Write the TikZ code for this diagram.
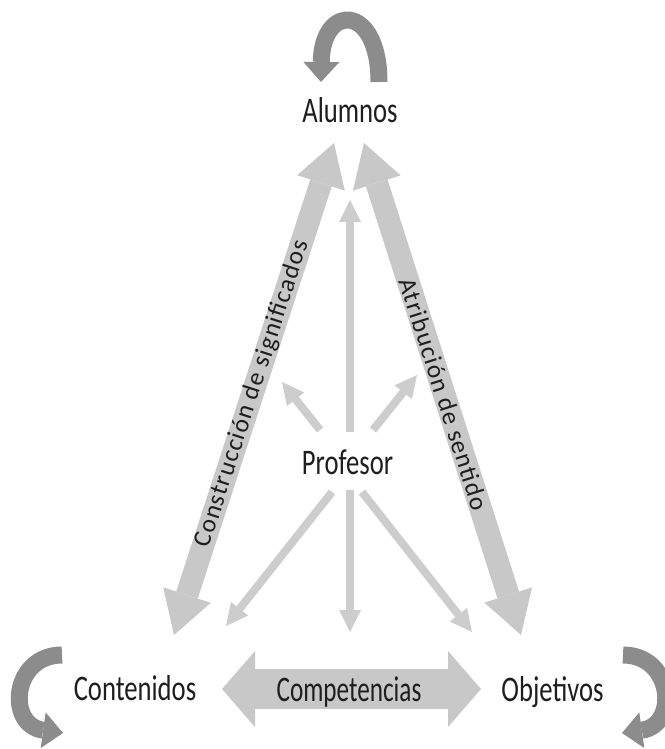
\documentclass[tikz,border=0pt]{standalone}
\usepackage{fontspec}
\setmainfont{Carlito}
\newfontfamily\rotfont[LetterSpace=5]{Carlito}
\usetikzlibrary{arrows.meta}
\definecolor{biggray}{HTML}{C8C8C8}
\definecolor{thingray}{HTML}{CDCDCD}
\definecolor{curvegray}{HTML}{8C8C8C}
\definecolor{txt}{HTML}{1E1E1E}
\begin{document}
\begin{tikzpicture}[x=0.75pt,y=-0.75pt,
  lbl/.style={font=\fontsize{27pt}{30pt}\selectfont, text=txt, inner sep=0pt, anchor=base, xscale=#1},
  lbl/.default=0.74,
  rlbl/.style={font=\rotfont\fontsize{19pt}{21pt}\selectfont, text=txt, inner sep=0pt, sloped},
  bigtip/.tip={Triangle[width=37.5pt,length=31.5pt,line width=0pt]},
  thintip/.tip={Triangle[width=16.5pt,length=16.5pt,line width=0pt]},
  comptip/.tip={Triangle[width=57pt,length=24.75pt,line width=0pt]},
  curvetip/.tip={Triangle[width=27pt,length=15pt,line width=0pt]},
  bigarrow/.style={draw=biggray, line width=17pt, bigtip-bigtip},
  thinarrow/.style={draw=thingray, line width=6pt, -thintip},
  comparrow/.style={draw=biggray, line width=30pt, comptip-comptip},
  curvearrow/.style={draw=curvegray, line width=12.75pt, -curvetip}
]
\useasboundingbox (0,0) rectangle (664,749);

% labels
\node[lbl] (alumnos) at (350,122) {Alumnos};
\node[lbl] (profesor) at (347.5,474) {Profesor};
\node[lbl] (contenidos) at (135,700) {Contenidos};
\node[lbl] (objetivos) at (552.5,701) {Objetivos};

% named end points
\coordinate (cTop) at (334,143);
\coordinate (cBot) at (174,635);
\coordinate (aTop) at (364,143);
\coordinate (aBot) at (521,635);
\coordinate (pUp) at (350,432);
\coordinate (pUpL) at (320,430);
\coordinate (pUpR) at (373,430);
\coordinate (pDn) at (350,490);
\coordinate (pDnL) at (332,492);
\coordinate (pDnR) at (362,492);
\coordinate (tUp) at (350,200);
\coordinate (tUpL) at (282,382);
\coordinate (tUpR) at (417,375);
\coordinate (tDn) at (350,632);
\coordinate (tDnL) at (226,626);
\coordinate (tDnR) at (472,632);
\coordinate (kL) at (222,689);
\coordinate (kR) at (481,689);

% thin arrows from Profesor
\draw[thinarrow] (pUp) -- (tUp);
\draw[thinarrow] (pUpL) -- (tUpL);
\draw[thinarrow] (pUpR) -- (tUpR);
\draw[thinarrow] (pDn) -- (tDn);
\draw[thinarrow] (pDnL) -- (tDnL);
\draw[thinarrow] (pDnR) -- (tDnR);

% big double arrows
\draw[bigarrow] (cBot) -- node[rlbl, pos=0.49] (construccion) {Construcción de significados} (cTop);
\draw[bigarrow] (aTop) -- node[rlbl, pos=0.51] (atribucion) {Atribución de sentido} (aBot);

% competencias
\draw[comparrow] (kL) -- (kR);
\node[lbl=0.70] (competencias) at (349,701) {Competencias};

% curved arrows
\coordinate (topS) at (379,82);
\coordinate (topE) at (321,82);
\draw[curvearrow] (topS) .. controls (379,3) and (322,3) .. (topE);
\coordinate (leftS) at (62,655);
\coordinate (leftE) at (63,733);
\draw[curvearrow] (leftS) .. controls (12,655) and (6,725) .. (leftE);
\coordinate (rightS) at (623,655);
\coordinate (rightE) at (622,733);
\draw[curvearrow] (rightS) .. controls (673,655) and (679,725) .. (rightE);
\end{tikzpicture}
\end{document}
